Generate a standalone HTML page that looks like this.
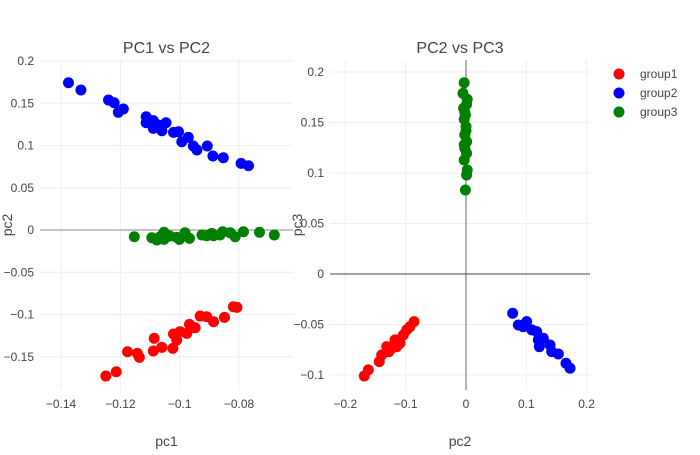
<!DOCTYPE html>
<html><head><meta charset="utf-8"><style>
body{margin:0;background:#fff;font-family:"Liberation Sans",sans-serif}
svg text{font-family:"Liberation Sans",sans-serif;fill:#444}
</style></head><body>
<svg id="chart" width="700" height="450"></svg>
<script>
const groups=['group1','group2','group3'];
const colors=['#ff0000','#0000ff','#008000'];
// Left panel: pc1 vs pc2
const g1_pc1=[-0.1249,-0.1214,-0.1176,-0.1143,-0.1136,-0.1089,-0.1086,-0.1060,-0.1023,-0.1021,-0.1010,-0.0999,-0.0976,-0.0967,-0.0948,-0.0931,-0.0909,-0.0886,-0.0849,-0.0819,-0.0807];
const g1_pc2=[-0.1728,-0.1677,-0.1440,-0.1459,-0.1507,-0.1432,-0.1282,-0.1388,-0.1400,-0.1231,-0.1302,-0.1203,-0.1223,-0.1116,-0.1156,-0.1018,-0.1026,-0.1085,-0.1033,-0.0908,-0.0915];
const g2_pc1=[-0.1375,-0.1333,-0.1240,-0.1221,-0.1207,-0.1190,-0.1113,-0.1113,-0.1089,-0.1072,-0.1046,-0.1089,-0.1060,-0.1021,-0.1004,-0.0993,-0.0971,-0.0954,-0.0942,-0.0907,-0.0888,-0.0853,-0.0793,-0.0768];
const g2_pc2=[0.1743,0.1657,0.1538,0.1506,0.1393,0.1432,0.1341,0.1270,0.1294,0.1243,0.1270,0.1203,0.1175,0.1156,0.1163,0.1045,0.1097,0.0994,0.0947,0.0994,0.0876,0.0856,0.0789,0.0761];
const g3_pc1=[-0.1153,-0.1094,-0.1077,-0.1066,-0.1053,-0.1053,-0.1033,-0.1010,-0.1001,-0.0982,-0.0967,-0.0925,-0.0909,-0.0892,-0.0886,-0.0864,-0.0855,-0.0830,-0.0813,-0.0785,-0.0731,-0.0681];
const g3_pc2=[-0.0079,-0.0091,-0.0118,-0.0079,-0.0027,-0.0110,-0.0071,-0.0087,-0.0110,-0.0032,-0.0099,-0.0059,-0.0067,-0.0039,-0.0067,-0.0059,-0.0020,-0.0032,-0.0079,-0.0020,-0.0027,-0.0059];
// Right panel: pc2 vs pc3
const r1_pc2=[-0.1687,-0.1620,-0.1438,-0.1398,-0.1315,-0.1232,-0.1177,-0.1095,-0.1040,-0.0983,-0.0929,-0.0862,-0.1150,-0.1280];
const r1_pc3=[-0.1010,-0.0950,-0.0868,-0.0802,-0.0720,-0.0736,-0.0653,-0.0686,-0.0604,-0.0554,-0.0522,-0.0472,-0.0720,-0.0770];
const r2_pc2=[0.0774,0.0868,0.1006,0.1090,0.1172,0.1199,0.1282,0.1216,0.1393,0.1421,0.1531,0.1658,0.1725,0.0950];
const r2_pc3=[-0.0389,-0.0505,-0.0472,-0.0554,-0.0571,-0.0653,-0.0637,-0.0720,-0.0703,-0.0769,-0.0792,-0.0884,-0.0934,-0.0522];
const r3_pc2=[-0.003,-0.005,0.002,-0.004,-0.001,-0.003,0.000,-0.002,0.001,-0.002,0.001,-0.003,0.002,0.001,-0.001,-0.002,0.000,-0.003,0.001];
const r3_pc3=[0.1894,0.1789,0.1730,0.1641,0.1574,0.1532,0.1459,0.1376,0.1310,0.1245,0.1195,0.1129,0.1030,0.0980,0.0832,0.1600,0.1420,0.1280,0.1680];
const leftXTicks=[-0.14,-0.12,-0.1,-0.08];
const leftXLabels=['−0.14','−0.12','−0.1','−0.08'];
const leftYTicks=[0.2,0.15,0.1,0.05,0,-0.05,-0.1,-0.15];
const leftYLabels=['0.2','0.15','0.1','0.05','0','−0.05','−0.1','−0.15'];
const rightXTicks=[-0.2,-0.1,0,0.1,0.2];
const rightXLabels=['−0.2','−0.1','0','0.1','0.2'];
const rightYTicks=[0.2,0.15,0.1,0.05,0,-0.05,-0.1];
const rightYLabels=['0.2','0.15','0.1','0.05','0','−0.05','−0.1'];

const NS='http://www.w3.org/2000/svg';
const svg=document.getElementById('chart');
function mk(tag,attrs,parent){const e=document.createElementNS(NS,tag);for(const k in attrs)e.setAttribute(k,attrs[k]);(parent||svg).appendChild(e);return e;}

function panel(p){
  const sx=v=>p.x0+(v-p.xmin)/(p.xmax-p.xmin)*(p.x1-p.x0);
  const sy=v=>p.y1-(v-p.ymin)/(p.ymax-p.ymin)*(p.y1-p.y0);
  const g=mk('g',{});
  
  
  p.xt.forEach((t,i)=>{
    const x=sx(t);
    if(t!==0){const l=mk('line',{x1:x,x2:x,y1:p.y0,y2:p.y1,stroke:'#eee','stroke-width':1},g);
    }
    const tx=mk('text',{x:x,y:p.y1+18,'text-anchor':'middle','font-size':12},g);tx.textContent=p.xl[i];
    
  });
  p.yt.forEach((t,i)=>{
    const y=sy(t);
    if(t!==0){const l=mk('line',{x1:p.x0,x2:p.x1,y1:y,y2:y,stroke:'#eee','stroke-width':1},g);
    }
    const tx=mk('text',{x:p.x0-6,y:y+4,'text-anchor':'end','font-size':12},g);tx.textContent=p.yl[i];
    
  });
  if(p.xzero){const l=mk('line',{x1:sx(0),x2:sx(0),y1:p.y0,y2:p.y1,stroke:'#999','stroke-width':1.5},g);
    }
  const zl=mk('line',{x1:p.x0,x2:p.x1,y1:sy(0),y2:sy(0),stroke:p.yzc,'stroke-width':1},g);
  
  p.series.forEach((s,si)=>{
    s[0].forEach((v,i)=>{
      const c=mk('circle',{cx:sx(v),cy:sy(s[1][i]),r:5.5,fill:colors[si]},g);
      
      
    });
  });
  const ti=mk('text',{x:(p.x0+p.x1)/2,y:53,'text-anchor':'middle','font-size':16},g);ti.textContent=p.title;
  
  const xa=mk('text',{x:(p.x0+p.x1)/2,y:446,'text-anchor':'middle','font-size':14},g);xa.textContent=p.xlab;
  
  const yx=p.x0-28, yy=(p.y0+p.y1)/2;
  const ya=mk('text',{x:yx,y:yy,'text-anchor':'middle','font-size':14,transform:`rotate(-90 ${yx} ${yy})`},g);ya.textContent=p.ylab;
  
}
panel({name:'pc1-vs-pc2-plot',x0:40,x1:293,y0:60,y1:390,xmin:-0.1471,xmax:-0.0618,ymin:-0.1893,ymax:0.2012,
  xt:leftXTicks,xl:leftXLabels,yt:leftYTicks,yl:leftYLabels,xzero:false,yzc:'#888',
  series:[[g1_pc1,g1_pc2],[g2_pc1,g2_pc2],[g3_pc1,g3_pc2]],title:'PC1 vs PC2',xlab:'pc1',ylab:'pc2'});
panel({name:'pc2-vs-pc3-plot',x0:330,x1:590,y0:60,y1:390,xmin:-0.2255,xmax:0.2056,ymin:-0.1149,ymax:0.2119,
  xt:rightXTicks,xl:rightXLabels,yt:rightYTicks,yl:rightYLabels,xzero:true,yzc:'#444',
  series:[[r1_pc2,r1_pc3],[r2_pc2,r2_pc3],[r3_pc2,r3_pc3]],title:'PC2 vs PC3',xlab:'pc2',ylab:'pc3'});
groups.forEach((gname,i)=>{
  const y=74+i*19;
  const lg=mk('g',{});
  
  
  mk('circle',{cx:619,cy:y,r:5.5,fill:colors[i]},lg);
  const t=mk('text',{x:640,y:y+4,'font-size':12},lg);t.textContent=gname;
});
</script>
</body></html>
